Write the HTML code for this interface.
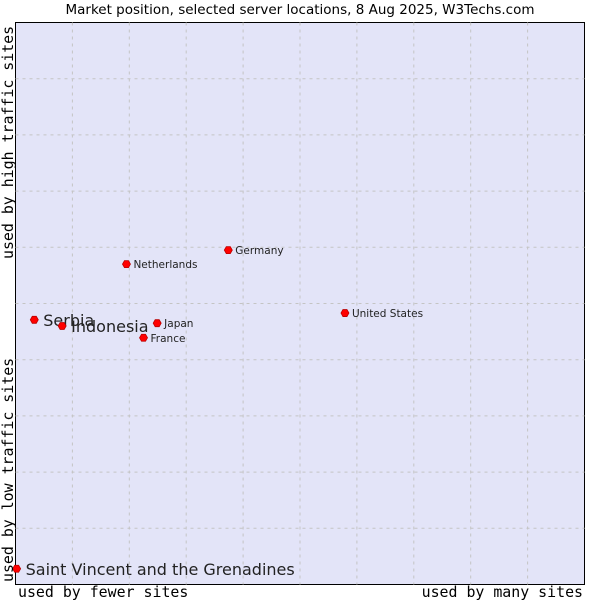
<!DOCTYPE html>
<html><head><meta charset="utf-8"><style>
body{margin:0;background:#fff;width:600px;height:600px;overflow:hidden}
svg text{font-family:"DejaVu Sans","Liberation Sans",sans-serif}
.ax{font-family:"DejaVu Sans Mono","Liberation Mono",monospace !important;font-size:14.9px}
</style></head><body>
<svg id="c" width="600" height="600">
<text x="300" y="14" text-anchor="middle" font-size="13.5" fill="#000">Market position, selected server locations, 8 Aug 2025, W3Techs.com</text>
<rect x="15.5" y="22.5" width="569" height="562" fill="#e3e4f8" stroke="#000"/>
<g id="grid"></g>
<g id="pts"></g>
<text class="ax" x="18" y="597">used by fewer sites</text>
<text class="ax" x="583" y="597" text-anchor="end">used by many sites</text>
<text class="ax" transform="translate(13,259) rotate(-90)">used by high traffic sites</text>
<text class="ax" transform="translate(13,582) rotate(-90)">used by low traffic sites</text>
</svg>
<script>
const names=["Saint Vincent and the Grenadines","Serbia","Indonesia","Netherlands","Germany","Japan","France","United States"];
const xs=[0.2,3.3,8.2,19.5,37.4,24.9,22.5,57.9];
const ys=[2.8,47.1,46.0,57.0,59.5,46.5,43.9,48.3];
const big=[true,true,true,false,false,false,false,false];
const L=15.5,T=22.5,W=569,H=562;
const sx=v=>L+v/100*W, sy=v=>T+H-v/100*H;
const ns="http://www.w3.org/2000/svg";
const g=document.getElementById('grid');
for(let i=1;i<10;i++){
 const v=document.createElementNS(ns,'line');
 
 
 v.setAttribute('x1',sx(i*10));v.setAttribute('x2',sx(i*10));v.setAttribute('y1',T);v.setAttribute('y2',T+H);
 v.setAttribute('stroke','#c4c4c4');v.setAttribute('stroke-dasharray','3,4');g.appendChild(v);
 const h=document.createElementNS(ns,'line');
 
 
 h.setAttribute('y1',sy(i*10));h.setAttribute('y2',sy(i*10));h.setAttribute('x1',L);h.setAttribute('x2',L+W);
 h.setAttribute('stroke','#c4c4c4');h.setAttribute('stroke-dasharray','3,4');g.appendChild(h);
}
const p=document.getElementById('pts');
names.forEach((n,i)=>{
 const x=sx(xs[i]),y=sy(ys[i]);
 const m=document.createElementNS(ns,'path');
 
 
 m.setAttribute('d',`M${x-4},${y} L${x-2},${y-3.5} L${x+2},${y-3.5} L${x+4},${y} L${x+2},${y+3.5} L${x-2},${y+3.5}Z`);
 m.setAttribute('fill','#f00');m.setAttribute('stroke','#b00');m.setAttribute('stroke-width','0.8');
 p.appendChild(m);
 const t=document.createElementNS(ns,'text');
 
 
 t.setAttribute('x',x+(big[i]?9:7));t.setAttribute('y',y+(big[i]?6:4));
 t.setAttribute('font-size',big[i]?16:10.5);t.setAttribute('fill','#222');
 t.textContent=n;p.appendChild(t);
});
</script>
</body></html>
